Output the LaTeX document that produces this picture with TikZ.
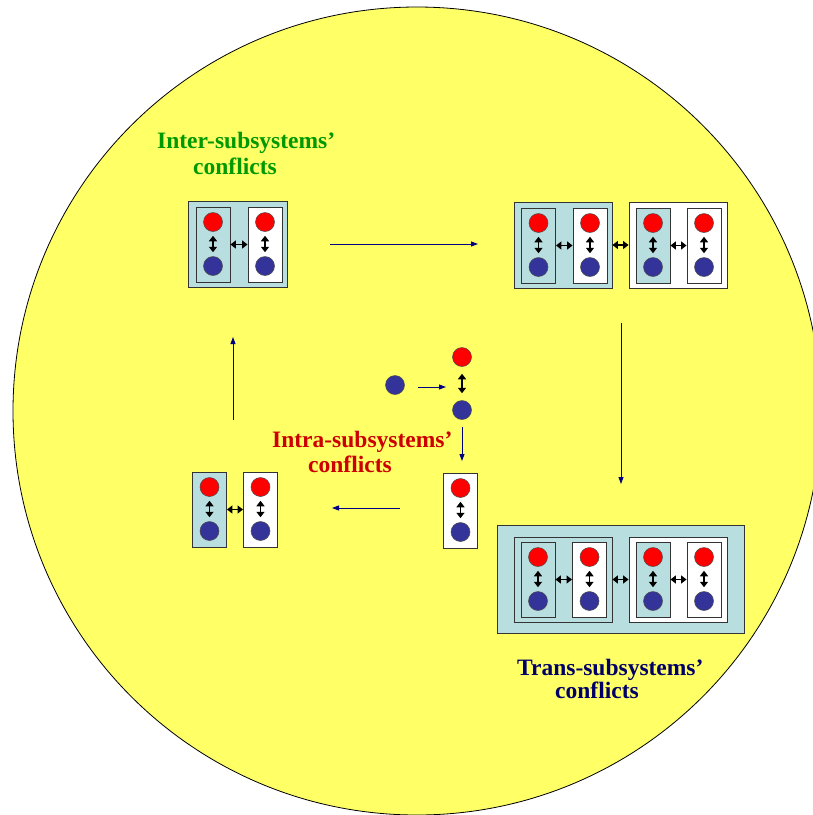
\documentclass[tikz,border=0pt]{standalone}
\usepackage{fontspec}
\setmainfont{Liberation Serif}
\usetikzlibrary{arrows.meta}
\definecolor{bgyellow}{RGB}{255,255,102}
\definecolor{lblue}{RGB}{184,222,224}
\definecolor{ballred}{RGB}{255,0,0}
\definecolor{ballblue}{RGB}{51,51,153}
\definecolor{navy}{RGB}{0,0,128}
\definecolor{intergreen}{RGB}{0,153,0}
\definecolor{intrared}{RGB}{204,0,0}
\definecolor{transnavy}{RGB}{0,0,102}
\tikzset{
  bigbox/.style={draw=black!80, line width=0.9pt, inner sep=0pt},
  cellbox/.style={draw=black!80, line width=0.9pt, inner sep=0pt, minimum width=34, minimum height=75},
  redball/.style={circle, draw=black!70, line width=0.5pt, fill=ballred, minimum size=19, inner sep=0pt},
  blueball/.style={circle, draw=black!70, line width=0.5pt, fill=ballblue, minimum size=19, inner sep=0pt},
  dbl/.style={line width=1.5pt, {Triangle[length=5.5pt,width=8pt]}-{Triangle[length=5.5pt,width=8pt]}},
  flow/.style={navy, line width=0.9pt, -{Triangle[length=7pt,width=5pt]}},
  lbl/.style={font=\fontsize{23.5}{28}\selectfont\bfseries, inner sep=0pt, anchor=base west}
}
\newcommand\mycell[4]{%
  \node[cellbox, fill=#4] (#1) at (#2,#3+37.5) {};
  \node[redball] (#1r) at (#2,#3+15) {};
  \node[blueball] (#1b) at (#2,#3+59) {};
  \draw[dbl, shorten <=4pt, shorten >=4pt] (#1r) -- (#1b);
}
\newcommand\mybox[6]{%
  \node[bigbox, fill=#6, minimum width=#4-#2, minimum height=#5-#3] (#1) at ({(#2+#4)/2},{(#3+#5)/2}) {};
}
\begin{document}
\begin{tikzpicture}[x=1pt,y=-1pt]
\useasboundingbox (0,0) rectangle (813,815);
\begin{scope}
\clip (0,0) rectangle (813,815);
\fill[bgyellow, draw=black, line width=0.8pt] (417,411) circle[radius=404];
\end{scope}

% Labels
\node[lbl, text=intergreen] (inter1) at (157,148) {Inter-subsystems’};
\node[lbl, text=intergreen] (inter2) at (193,174) {conflicts};
\node[lbl, text=intrared] (intra1) at (272,447) {Intra-subsystems’};
\node[lbl, text=intrared] (intra2) at (308,472) {conflicts};
\node[lbl, text=transnavy] (trans1) at (517,675) {Trans-subsystems’};
\node[lbl, text=transnavy] (trans2) at (555,698) {conflicts};

% Top-left group (inter)
\mybox{tl}{188}{201}{287}{287}{lblue}
\mycell{tla}{213}{207}{lblue}
\mycell{tlb}{265}{207}{white}
\draw[dbl] (tla.east) -- (tlb.west);

% Top-right group
\mybox{tra}{514}{202}{612}{288}{lblue}
\mybox{trb}{629}{202}{727}{288}{white}
\mycell{trc}{538.5}{208}{lblue}
\mycell{trd}{590}{208}{white}
\mycell{tre}{653}{208}{lblue}
\mycell{trf}{704}{208}{white}
\draw[dbl] (trc.east) -- (trd.west);
\draw[dbl] (tra.east) -- (trb.west);
\draw[dbl] (tre.east) -- (trf.west);

% Bottom-right group (trans)
\mybox{bro}{497}{525}{744}{633}{lblue}
\mybox{bra}{514}{537}{612}{622}{lblue}
\mybox{brb}{629}{537}{727}{622}{white}
\mycell{brc}{538}{542}{lblue}
\mycell{brd}{589.5}{542}{white}
\mycell{bre}{653}{542}{lblue}
\mycell{brf}{704}{542}{white}
\draw[dbl] (brc.east) -- (brd.west);
\draw[dbl] (bra.east) -- (brb.west);
\draw[dbl] (bre.east) -- (brf.west);

% Bottom-left group
\mycell{bla}{209.5}{472}{lblue}
\mycell{blb}{260.5}{472}{white}
\draw[dbl] (bla.east) -- (blb.west);

% Centre (intra)
\node[blueball] (lone) at (395,385) {};
\node[redball] (cr) at (462,357) {};
\node[blueball] (cb) at (462,410) {};
\draw[dbl, shorten <=7pt, shorten >=7pt] (cr) -- (cb);
\coordinate (la1) at (418,387);
\coordinate (la2) at (446,387);
\draw[flow] (la1) -- (la2);
\mycell{ca}{460.5}{473}{white}
\coordinate (da1) at (462,427);
\coordinate (da2) at (462,461);
\draw[flow] (da1) -- (da2);

% Cycle arrows
\coordinate (t1) at (330,244);
\coordinate (t2) at (478,244);
\draw[flow] (t1) -- (t2);
\coordinate (r1) at (621,323);
\coordinate (r2) at (621,484);
\draw[flow] (r1) -- (r2);
\coordinate (b1) at (400,508);
\coordinate (b2) at (332,508);
\draw[flow] (b1) -- (b2);
\coordinate (l1) at (233,420);
\coordinate (l2) at (233,337);
\draw[flow] (l1) -- (l2);
\end{tikzpicture}
\end{document}
